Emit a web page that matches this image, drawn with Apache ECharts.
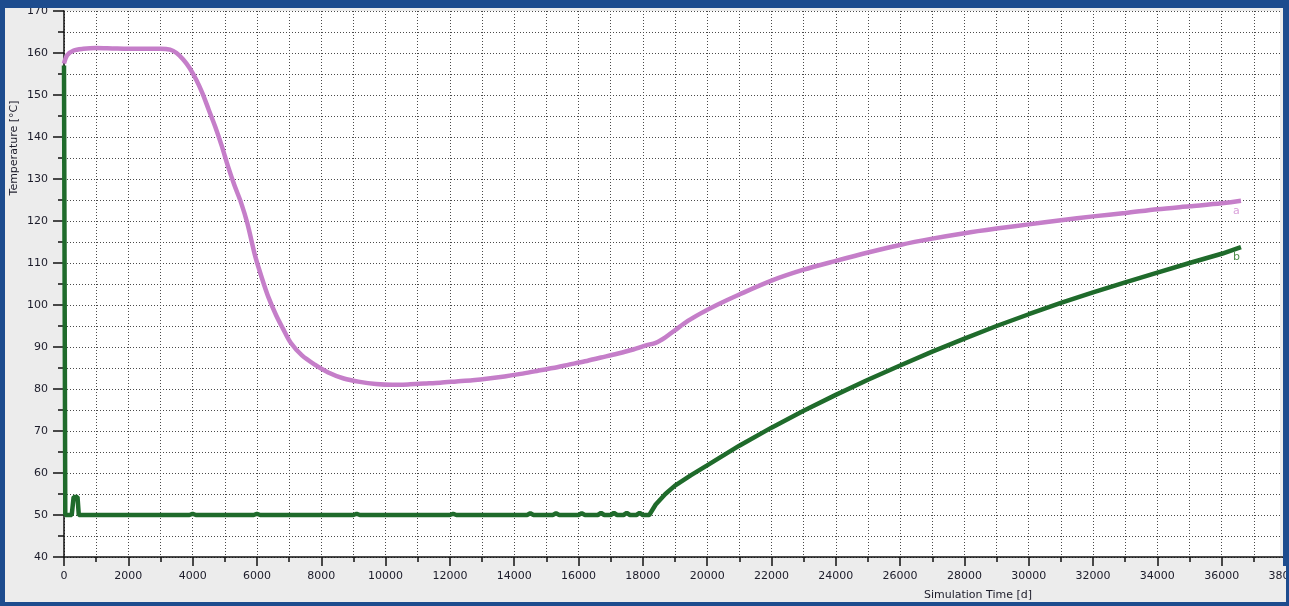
<!DOCTYPE html>
<html>
<head>
<meta charset="utf-8">
<script src="https://cdn.jsdelivr.net/npm/echarts@6/dist/echarts.min.js"></script>
<style>
  html, body { margin: 0; padding: 0; background: #ececec; }
  #chart { width: 1289px; height: 606px; }
</style>
</head>
<body>
<div id="chart"></div>
<script>
// Temperature history of two observation points over the simulation period
const xTicks = [0, 2000, 4000, 6000, 8000, 10000, 12000, 14000, 16000, 18000, 20000,
                22000, 24000, 26000, 28000, 30000, 32000, 34000, 36000, 38000];
const yTicks = [40, 50, 60, 70, 80, 90, 100, 110, 120, 130, 140, 150, 160, 170];

// Series a (magenta)
const aTime = [0, 100, 300, 600, 1000, 1500, 2000, 2500, 3000, 3300, 3500, 3700, 3900, 4100,
               4300, 4500, 4700, 4900, 5100, 5300, 5500, 5700, 5950, 6150, 6350, 6600, 6800,
               7050, 7400, 7800, 8200, 8700, 9200, 9700, 10200, 10700, 11200, 11700, 12200,
               12700, 13200, 13700, 14200, 14700, 15200, 15700, 16200, 16700, 17200, 17700,
               18100, 18400, 18700, 19000, 19400, 19800, 20300, 21000, 22000, 23000, 24000,
               25000, 26000, 27000, 28000, 29000, 30000, 31000, 32000, 33000, 34000, 35000,
               36000, 36600];
const aTemp = [157.5, 159.5, 160.6, 161.0, 161.2, 161.1, 161.0, 161.0, 161.0, 160.8, 160.0,
               158.5, 156.5, 153.8, 150.5, 146.5, 142.5, 138.0, 133.0, 128.5, 124.5, 119.5,
               111.5, 106.5, 102.0, 97.5, 94.5, 91.0, 88.0, 85.8, 84.0, 82.5, 81.7, 81.2,
               81.0, 81.1, 81.3, 81.5, 81.8, 82.1, 82.5, 83.0, 83.6, 84.3, 85.0, 85.8, 86.6,
               87.5, 88.4, 89.4, 90.4, 91.0, 92.3, 94.0, 96.2, 98.0, 100.0, 102.5, 105.8,
               108.4, 110.5, 112.5, 114.3, 115.8, 117.1, 118.2, 119.2, 120.2, 121.1, 121.9,
               122.8, 123.5, 124.2, 124.8];

// Series b (green)
const bTime = [0, 40, 240, 300, 420, 460, 3900, 4000, 4100, 5900, 6000, 6100, 9000, 9100,
               9200, 12000, 12100, 12200, 14400, 14500, 14600, 15200, 15300, 15400, 16000,
               16100, 16200, 16600, 16700, 16800, 17000, 17100, 17200, 17400, 17500, 17600,
               17800, 17900, 18000, 18200, 18400, 18700, 19000, 19500, 20000, 21000, 22000,
               23000, 24000, 25000, 26000, 27000, 28000, 29000, 30000, 31000, 32000, 33000,
               34000, 35000, 36000, 36600];
const bTemp = [157, 50, 50, 54.3, 54.3, 50, 50, 50.3, 50, 50, 50.3, 50, 50, 50.3, 50, 50,
               50.3, 50, 50, 50.4, 50, 50, 50.4, 50, 50, 50.4, 50, 50, 50.5, 50, 50, 50.5,
               50, 50, 50.5, 50, 50, 50.5, 50, 50, 52.5, 55.0, 57.0, 59.5, 61.8, 66.5, 70.8,
               74.8, 78.6, 82.2, 85.6, 88.9, 92.0, 95.0, 97.8, 100.5, 103.0, 105.4, 107.7,
               110.0, 112.2, 113.8];

const seriesNames = ['a', 'b'];
const xName = 'Simulation Time [d]';
const yName = 'Temperature [°C]';

const pairs = (xs, ys) => xs.map((x, i) => [x, ys[i]]);

const FONT = 'DejaVu Sans';
const TEXT = '#1c1c2a';
const FRAME = '#1d4c8e';
const GRIDLINE = { show: true, lineStyle: { color: '#4a4a4a', width: 1, type: [1, 2] } };

const chart = echarts.init(document.getElementById('chart'), null, { renderer: 'canvas' });
chart.setOption({
  animation: false,
  backgroundColor: '#ececec',
  grid: { left: 64, right: 3, top: 11, bottom: 49, show: true, backgroundColor: '#ffffff',
          borderWidth: 0, containLabel: false, outerBoundsMode: 'none' },
  xAxis: {
    type: 'value',
    min: xTicks[0], max: xTicks[xTicks.length - 1], interval: xTicks[1] - xTicks[0],
    axisLine: { show: true, onZero: false, lineStyle: { color: '#111', width: 1.5 } },
    axisTick: { show: true, length: 9, lineStyle: { color: '#111', width: 1.5 } },
    minorTick: { show: true, splitNumber: 2, length: 5, lineStyle: { color: '#111', width: 1.5 } },
    splitLine: GRIDLINE,
    minorSplitLine: GRIDLINE,
    axisLabel: { color: TEXT, fontFamily: FONT, fontSize: 11, margin: 14, showMaxLabel: true,
                 hideOverlap: false,
                 formatter: v => xTicks.includes(v) ? String(v) : '' }
  },
  yAxis: {
    type: 'value',
    min: yTicks[0], max: yTicks[yTicks.length - 1], interval: yTicks[1] - yTicks[0],
    axisLine: { show: true, onZero: false, lineStyle: { color: '#111', width: 1.5 } },
    axisTick: { show: true, length: 11, lineStyle: { color: '#111', width: 1.5 } },
    minorTick: { show: true, splitNumber: 2, length: 6, lineStyle: { color: '#111', width: 1.5 } },
    splitLine: GRIDLINE,
    minorSplitLine: GRIDLINE,
    axisLabel: { color: TEXT, fontFamily: FONT, fontSize: 11, margin: 16,
                 formatter: v => yTicks.includes(v) ? String(v) : '' }
  },
  series: [
    {
      name: seriesNames[0], type: 'line', data: pairs(aTime, aTemp), showSymbol: false,
      smooth: 0.3, z: 3,
      lineStyle: { color: '#c57ec9', width: 4.5 },
      endLabel: { show: true, formatter: seriesNames[0], color: '#d9a0da', fontFamily: FONT,
                  fontSize: 11, offset: [-16, 10] }
    },
    {
      name: seriesNames[1], type: 'line', data: pairs(bTime, bTemp), showSymbol: false,
      z: 4,
      lineStyle: { color: '#1f6b2b', width: 4.5 },
      endLabel: { show: true, formatter: seriesNames[1], color: '#4e8f4a', fontFamily: FONT,
                  fontSize: 11, offset: [-16, 10] }
    }
  ],
  graphic: [
    { type: 'text', x: 14, y: 148, rotation: Math.PI / 2, z: 50,
      style: { text: yName, fill: TEXT, font: '11px "DejaVu Sans"', align: 'center', verticalAlign: 'middle' } },
    { type: 'text', x: 1032, y: 595, z: 50,
      style: { text: xName, fill: TEXT, font: '11px "DejaVu Sans"', align: 'right', verticalAlign: 'middle' } },
    // window frame
    { type: 'rect', z: 100, shape: { x: 0, y: 0, width: 1289, height: 8 }, style: { fill: FRAME } },
    { type: 'rect', z: 100, shape: { x: 0, y: 0, width: 5, height: 606 }, style: { fill: FRAME } },
    { type: 'rect', z: 100, shape: { x: 1283, y: 0, width: 6, height: 566 }, style: { fill: FRAME } },
    { type: 'rect', z: 100, shape: { x: 1286, y: 566, width: 3, height: 40 }, style: { fill: FRAME } },
    { type: 'rect', z: 100, shape: { x: 0, y: 602, width: 1289, height: 4 }, style: { fill: FRAME } },
    { type: 'rect', z: 99, shape: { x: 1280, y: 8, width: 3, height: 548 }, style: { fill: '#ececec' } }
  ]
});
</script>
</body>
</html>
